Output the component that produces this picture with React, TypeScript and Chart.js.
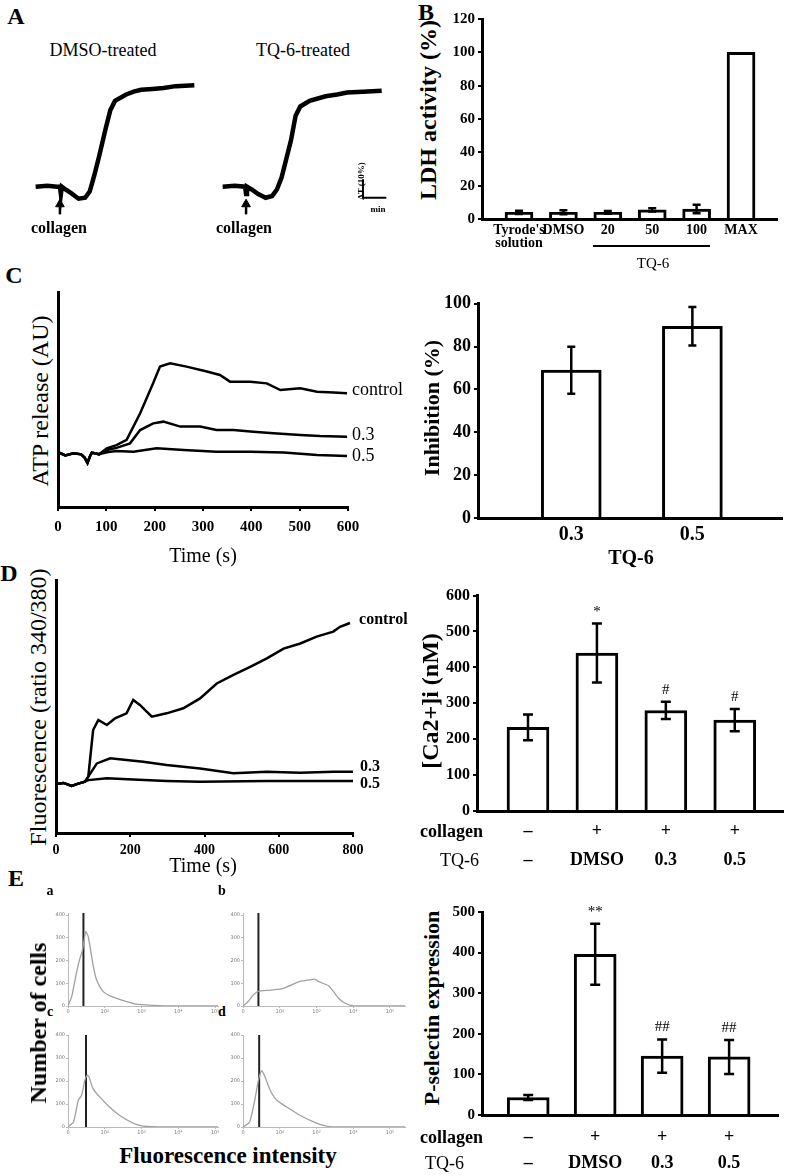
import React, { useEffect, useRef } from 'react';
import { Chart, registerables } from 'chart.js';

Chart.register(...registerables);
const SERIF = "'Liberation Serif', 'Times New Roman', serif";
Chart.defaults.font.family = SERIF;
Chart.defaults.color = '#000';

// ---------------- Data ----------------
// Panel A: platelet aggregation traces (time in min, light transmission change in %)
const aDmsoTime = [0, 0.5, 0.92, 1.04, 1.08, 1.12, 1.28, 1.52, 1.84, 2.12, 2.32, 2.52, 2.72, 3.0, 3.2, 3.4, 3.88, 4.2, 4.52, 5.0, 5.48, 6.0, 6.8];
const aDmsoValue = [0, 0.5, 0, 0, -4, 0, -1.5, -3.5, -6.5, -6, -2.5, 6.5, 16.5, 31.5, 41.5, 46.5, 50, 51.5, 52.5, 53, 53.5, 54.5, 55];
const aTqTime = [0, 0.5, 0.96, 1.0, 1.04, 1.24, 1.52, 1.84, 2.12, 2.32, 2.52, 2.72, 2.92, 3.12, 3.32, 3.72, 4.4, 4.9, 5.32, 6.0, 6.8];
const aTqValue = [0, 0.5, 0, -4, 0, -1.5, -4, -6, -5, -1.5, 5, 15, 25, 38.5, 43.5, 46.5, 49, 50, 51, 51.5, 52];
const aCollagenTime = [1.04, 1.0];
const scaleBarTime = [6, 6, 7];
const scaleBarValue = [4, -6, -6];

// Panel B: LDH activity
const ldhLabels = [["Tyrode's", 'solution'], 'DMSO', '20', '50', '100', 'MAX'];
const ldhValues = [4, 4, 4, 5.5, 6, 100];
const ldhErrors = [1, 1.2, 0.8, 1, 2.5, 0];

// Panel C: ATP release traces (time s, arbitrary units)
const atpCtrlTime = [0, 15, 32, 48, 55, 61, 66, 70, 85, 101, 121, 142, 170, 197, 211, 232, 266, 308, 335, 356, 398, 432, 460, 501, 536, 570, 598];
const atpCtrlValue = [25.5, 24, 25, 24.5, 23, 20.5, 23.5, 25.3, 24.5, 27.3, 28.8, 31.2, 43.6, 57.7, 65.3, 66.8, 65.3, 63, 61.4, 58.3, 58.3, 57.5, 54.4, 55.2, 53.6, 53.2, 52.9];
const atp03Time = [0, 15, 32, 48, 55, 61, 66, 70, 85, 101, 121, 149, 170, 197, 218, 253, 294, 328, 363, 404, 446, 501, 542, 598];
const atp03Value = [25.5, 24, 25, 24.5, 23, 20.5, 23.5, 25.3, 24.5, 26.5, 27.5, 29.6, 35.8, 38.9, 39.7, 37.4, 37.4, 35.8, 35.8, 35, 34.3, 33.5, 33, 32.7];
const atp05Time = [0, 15, 32, 48, 55, 61, 66, 70, 85, 101, 121, 156, 204, 260, 328, 398, 467, 536, 598];
const atp05Value = [25.5, 24, 25, 24.5, 23, 20.5, 23.5, 25.3, 24.5, 25.5, 26, 25.7, 27.3, 26.5, 25.7, 25.7, 25.3, 24.2, 23.7];

// Panel C: inhibition
const inhLabels = ['0.3', '0.5'];
const inhValues = [69, 89.5];
const inhErrors = [11, 9];

// Panel D: fluorescence traces
const fluCtrlTime = [0, 20, 42, 60, 78, 87, 100, 114, 137, 159, 190, 208, 226, 258, 298, 343, 388, 433, 478, 523, 568, 613, 658, 702, 747, 765, 792];
const fluCtrlValue = [19.4, 19.8, 18.6, 19.5, 20.3, 22.3, 40.7, 44.7, 42.7, 45.3, 47.3, 52.6, 50.6, 46, 47.3, 49.3, 53.2, 59.1, 62.5, 65.7, 69, 72.9, 74.9, 77.6, 79.6, 81.5, 83];
const flu03Time = [0, 20, 42, 60, 78, 87, 110, 146, 190, 235, 298, 388, 478, 568, 658, 747, 800];
const flu03Value = [19.4, 19.8, 18.6, 19.5, 20.3, 22.3, 27.5, 29.5, 28.9, 28.2, 26.9, 25.5, 23.6, 24.2, 23.8, 24.2, 24.2];
const flu05Time = [0, 20, 42, 60, 78, 87, 137, 208, 298, 388, 568, 800];
const flu05Value = [19.4, 19.8, 18.6, 19.5, 20.3, 20.9, 21.6, 21.1, 20.6, 20.3, 20.6, 20.6];

// Panel D: [Ca2+]i
const collagenRow = ['–', '+', '+', '+'];
const tq6Row = ['–', 'DMSO', '0.3', '0.5'];
const caValues = [233, 440, 280, 253];
const caErrors = [36, 82, 24, 31];
const caMarks = ['', '*', '#', '#'];

// Panel E: flow cytometry histograms (x in decades, y = number of cells)
const facsTickLabels = ['0', '10²', '10³', '10⁴', '10⁵'];
const facsCountTicks = [0, 100, 200, 300, 400];
const histAx = [0, 0.1, 0.21, 0.3, 0.4, 0.48, 0.55, 0.69, 0.78, 0.96, 1.19, 1.46, 1.82, 2.1, 2.7, 4.08];
const histAy = [0, 41, 129, 195, 250, 327, 305, 173, 114, 63, 41, 26, 9, 5, 0, 0];
const histBx = [0, 0.14, 0.28, 0.42, 0.74, 1.1, 1.55, 1.83, 1.96, 2.05, 2.33, 2.46, 2.6, 2.78, 3.0, 4.41];
const histBy = [0, 20, 49, 64, 70, 78, 108, 115, 118, 108, 89, 64, 34, 12, 1, 0];
const histCx = [0, 0.15, 0.28, 0.37, 0.46, 0.52, 0.57, 0.68, 0.86, 1.13, 1.4, 1.77, 2.05, 2.68, 4.08];
const histCy = [0, 22, 116, 138, 204, 225, 218, 167, 131, 87, 51, 17, 4, 0, 0];
const histDx = [0, 0.18, 0.32, 0.42, 0.51, 0.6, 0.74, 0.92, 1.19, 1.55, 1.92, 2.19, 2.46, 4.41];
const histDy = [0, 22, 116, 204, 245, 218, 160, 116, 87, 51, 22, 7, 0, 0];
const histMarkers = [0.42, 0.42, 0.49, 0.44];

// Panel E: P-selectin
const pselValues = [43, 396, 145, 143];
const pselErrors = [6, 75, 41, 42];
const pselMarks = ['', '**', '##', '##'];

// ---------------- Helpers ----------------
const pts = (xs: number[], ys: number[]) => xs.map((x, i) => ({ x, y: ys[i] }));
const fixW = (w: number) => (s: any) => { s.width = w; };
const fixH = (h: number) => (s: any) => { s.height = h; };
const basePlugins = { legend: { display: false }, tooltip: { enabled: false } };

const errorBarsPlugin = {
  id: 'errorBars',
  afterDatasetsDraw(chart: any) {
    const { ctx } = chart;
    const yScale = chart.scales.y;
    chart.data.datasets.forEach((ds: any, di: number) => {
      if (!ds.errors) return;
      const meta = chart.getDatasetMeta(di);
      ctx.save();
      ctx.strokeStyle = '#000';
      ctx.lineWidth = ds.errorLineWidth || 2.5;
      meta.data.forEach((bar: any, i: number) => {
        const v = ds.data[i].y;
        const e = ds.errors[i] || 0;
        const top = yScale.getPixelForValue(v + e);
        const bot = yScale.getPixelForValue(v - e);
        const cap = ds.capHalf || 4;
        if (e > 0) {
          ctx.beginPath();
          ctx.moveTo(bar.x, top); ctx.lineTo(bar.x, bot);
          ctx.moveTo(bar.x - cap, top); ctx.lineTo(bar.x + cap, top);
          ctx.moveTo(bar.x - cap, bot); ctx.lineTo(bar.x + cap, bot);
          ctx.stroke();
        }
        const m = ds.marks ? ds.marks[i] : '';
        if (m) {
          ctx.fillStyle = '#000';
          ctx.font = `15px ${SERIF}`;
          ctx.textAlign = 'center';
          ctx.textBaseline = 'middle';
          ctx.fillText(m, bar.x, top - 12);
        }
      });
      ctx.restore();
    });
  },
};

const endLabelsPlugin = {
  id: 'endLabels',
  afterDatasetsDraw(chart: any) {
    const { ctx } = chart;
    chart.data.datasets.forEach((ds: any, di: number) => {
      if (!ds.endLabel) return;
      const meta = chart.getDatasetMeta(di);
      const last = meta.data[meta.data.length - 1];
      ctx.save();
      ctx.fillStyle = '#000';
      ctx.font = ds.endFont;
      ctx.textAlign = 'left';
      ctx.textBaseline = 'middle';
      ctx.fillText(ds.endLabel, last.x + (ds.endDx || 4), last.y + (ds.endDy || 0));
      ctx.restore();
    });
  },
};

function aggConfig(time: number[], value: number[], arrowAt: number, xMax: number, withBar: boolean) {
  const datasets: any[] = [
    { data: pts(time, value), borderColor: '#000', borderWidth: 4.5, pointRadius: 0, tension: 0 },
    {
      data: [{ x: arrowAt, y: -15 }, { x: arrowAt, y: -9.5 }],
      borderColor: '#000', borderWidth: 2.5, pointRadius: [0, 5], pointStyle: 'triangle',
      pointBackgroundColor: '#000', pointBorderColor: '#000', pointBorderWidth: 1,
    },
  ];
  if (withBar) datasets.push({ data: pts(scaleBarTime, scaleBarValue), borderColor: '#000', borderWidth: 2, pointRadius: 0 });
  return {
    type: 'line',
    data: { datasets },
    options: {
      animation: false, responsive: false, events: [],
      plugins: basePlugins,
      scales: {
        x: { type: 'linear', display: false, min: -0.2, max: xMax },
        y: { type: 'linear', display: false, min: -17.5, max: 60 },
      },
    },
  };
}

function barConfig(o: any) {
  return {
    type: 'bar',
    data: {
      datasets: [{
        data: o.values.map((v: number, i: number) => ({ x: i, y: v })),
        errors: o.errors, marks: o.marks, capHalf: o.capHalf,
        backgroundColor: '#fff', borderColor: '#000', borderWidth: 3, borderSkipped: 'start',
        barThickness: o.barThickness,
      }],
    },
    options: {
      animation: false, responsive: false, events: [],
      layout: { padding: o.padding },
      plugins: basePlugins,
      scales: {
        x: {
          type: 'linear', offset: false, min: o.xMin, max: o.xMax,
          grid: { display: false, drawTicks: false },
          border: { display: true, color: '#000', width: 3, z: 1 },
          afterBuildTicks: (s: any) => { s.ticks = o.labels.map((_: any, i: number) => ({ value: i })); },
          ticks: {
            autoSkip: false, maxRotation: 0, padding: o.xPad,
            font: { size: o.xSize, weight: 'bold', lineHeight: o.xLineHeight },
            callback: (v: number) => o.labels[v],
          },
          afterFit: fixH(o.xHeight),
        },
        y: {
          type: 'linear', min: 0, max: o.yMax,
          ticks: { stepSize: o.yStep, padding: 3, font: { size: o.ySize, weight: 'bold' } },
          grid: { display: true, drawOnChartArea: false, drawTicks: true, tickLength: 4, color: '#000', lineWidth: 2 },
          border: { display: true, color: '#000', width: 3 },
          afterFit: fixW(o.yWidth),
        },
      },
    },
    plugins: [errorBarsPlugin],
  };
}

function traceConfig(o: any) {
  return {
    type: 'line',
    data: {
      datasets: o.series.map((s: any) => ({
        data: pts(s.time, s.value), borderColor: '#000', borderWidth: 2.5, pointRadius: 0, tension: 0,
        endLabel: s.label, endDy: s.dy, endDx: s.dx, endFont: o.labelFont,
      })),
    },
    options: {
      animation: false, responsive: false, events: [],
      layout: { padding: o.padding },
      plugins: basePlugins,
      scales: {
        x: {
          type: 'linear', min: 0, max: o.xMax,
          ticks: { stepSize: o.xStep, padding: o.xPad, font: { size: o.tickSize, weight: 'bold' } },
          grid: { display: true, drawOnChartArea: false, drawTicks: true, tickLength: 4, color: '#000', lineWidth: 2 },
          border: { display: true, color: '#000', width: 3 },
          afterFit: fixH(o.xHeight),
        },
        y: {
          type: 'linear', min: 0, max: 100,
          ticks: { display: false },
          grid: { display: false, drawTicks: false },
          border: { display: true, color: '#000', width: 3 },
          afterFit: fixW(o.yWidth),
        },
      },
    },
    plugins: [endLabelsPlugin],
  };
}

function histConfig(xs: number[], ys: number[], marker: number, xMax: number, yMax: number) {
  const tickFont = { size: 5, family: "'DejaVu Sans', sans-serif" };
  return {
    type: 'line',
    data: {
      datasets: [
        { data: pts(xs, ys), borderColor: '#a0a0a0', borderWidth: 1.3, pointRadius: 0, tension: 0.2 },
        { data: [{ x: marker, y: 0 }, { x: marker, y: yMax }], borderColor: '#222', borderWidth: 2, pointRadius: 0 },
      ],
    },
    options: {
      animation: false, responsive: false, events: [],
      layout: { padding: { top: 7, right: 3, left: 0, bottom: 0 } },
      plugins: basePlugins,
      scales: {
        x: {
          type: 'linear', min: 0, max: xMax,
          afterBuildTicks: (s: any) => { s.ticks = facsTickLabels.map((_, i) => ({ value: i })); },
          ticks: { autoSkip: false, maxRotation: 0, padding: 1, color: '#777', font: tickFont, callback: (v: number) => facsTickLabels[v] },
          grid: { display: true, drawOnChartArea: false, drawTicks: true, tickLength: 2, color: '#bbb', lineWidth: 1 },
          border: { display: true, color: '#bbb', width: 1, dash: [2, 2] },
          afterFit: fixH(10),
        },
        y: {
          type: 'linear', min: 0, max: yMax,
          afterBuildTicks: (s: any) => { s.ticks = facsCountTicks.map((v) => ({ value: v })); },
          ticks: { padding: 1, color: '#777', font: tickFont },
          grid: { display: true, drawOnChartArea: false, drawTicks: true, tickLength: 2, color: '#bbb', lineWidth: 1 },
          border: { display: true, color: '#bbb', width: 1, dash: [2, 2] },
          afterFit: fixW(16),
        },
      },
    },
  };
}

// ---------------- Components ----------------
function ChartCanvas({ left, top, width, height, make }: any) {
  const ref = useRef<HTMLCanvasElement>(null);
  useEffect(() => {
    const chart = new Chart(ref.current as any, make());
    return () => chart.destroy();
  }, []);
  return (
    <canvas ref={ref} width={width} height={height}
      style={{ position: 'absolute', left, top, width, height }} />
  );
}

function Txt({ x, y, text, size, bold = false, rotate = false, align = 'center' }: any) {
  const tx = align === 'center' ? '-50%' : '0';
  return (
    <div style={{
      position: 'absolute', left: x, top: y,
      transform: `translate(${tx},-50%)${rotate ? ' rotate(-90deg)' : ''}`,
      fontFamily: SERIF, fontSize: size, fontWeight: bold ? 700 : 400,
      lineHeight: 1, whiteSpace: 'nowrap', color: '#000',
    }}>{text}</div>
  );
}

const rowLabels = (i: number) => [collagenRow[i], tq6Row[i]];

export default function App() {
  return (
    <div style={{ position: 'absolute', left: 0, top: 0, width: 787, height: 1176, background: '#fff', overflow: 'hidden' }}>
      {/* Panel letters */}
      <Txt x={16} y={16} text="A" size={24} bold />
      <Txt x={426} y={12} text="B" size={24} bold />
      <Txt x={14} y={275} text="C" size={24} bold />
      <Txt x={9} y={573} text="D" size={24} bold />
      <Txt x={16} y={878} text="E" size={24} bold />

      {/* Panel A */}
      <Txt x={103} y={50} text="DMSO-treated" size={18} />
      <Txt x={303} y={50} text="TQ-6-treated" size={18} />
      <ChartCanvas left={25} top={70} width={180} height={155}
        make={() => aggConfig(aDmsoTime, aDmsoValue, aCollagenTime[0], 7.0, false)} />
      <ChartCanvas left={212} top={70} width={185} height={155}
        make={() => aggConfig(aTqTime, aTqValue, aCollagenTime[1], 7.2, true)} />
      <Txt x={59} y={228} text="collagen" size={16} bold />
      <Txt x={244} y={228} text="collagen" size={16} bold />
      <Txt x={361} y={181} text="ΔT (10%)" size={9} bold rotate />
      <Txt x={378} y={209} text="min" size={9} bold />

      {/* Panel B */}
      <Txt x={428} y={110} text="LDH activity (%)" size={24} bold rotate />
      <ChartCanvas left={438} top={7} width={349} height={243}
        make={() => barConfig({
          values: ldhValues, errors: ldhErrors, labels: ldhLabels, capHalf: 4,
          xMin: -0.833, xMax: 5.81, yMax: 120, yStep: 20, barThickness: 28,
          padding: { top: 10, right: 10, left: 0, bottom: 0 }, yWidth: 44, xHeight: 31,
          xPad: 4.5, xSize: 14, xLineHeight: 13 / 14, ySize: 15,
        })} />
      <div style={{ position: 'absolute', left: 593, top: 245, width: 117, height: 2, background: '#000' }} />
      <Txt x={653} y={263} text="TQ-6" size={15} />

      {/* Panel C */}
      <Txt x={40} y={401} text="ATP release (AU)" size={24} rotate />
      <ChartCanvas left={18} top={284} width={402} height={263}
        make={() => traceConfig({
          series: [
            { time: atpCtrlTime, value: atpCtrlValue, label: 'control', dy: -3, dx: 5 },
            { time: atp03Time, value: atp03Value, label: '0.3', dy: -1, dx: 5 },
            { time: atp05Time, value: atp05Value, label: '0.5', dy: 0, dx: 5 },
          ],
          xMax: 600, xStep: 100, xPad: 7, tickSize: 15, xHeight: 40, yWidth: 40,
          padding: { top: 8, right: 72, left: 0, bottom: 0 }, labelFont: `18px ${SERIF}`,
        })} />
      <Txt x={203} y={555} text="Time (s)" size={20} />
      <Txt x={432} y={408} text="Inhibition (%)" size={22} bold rotate />
      <ChartCanvas left={440} top={290} width={347} height={258}
        make={() => barConfig({
          values: inhValues, errors: inhErrors, labels: inhLabels, capHalf: 4,
          xMin: -0.77, xMax: 1.74, yMax: 100, yStep: 20, barThickness: 60,
          padding: { top: 10, right: 5, left: 0, bottom: 0 }, yWidth: 38, xHeight: 30,
          xPad: 5, xSize: 20, xLineHeight: 1.2, ySize: 18,
        })} />
      <Txt x={631} y={557} text="TQ-6" size={20} bold />

      {/* Panel D */}
      <Txt x={38} y={707} text="Fluorescence (ratio 340/380)" size={24} rotate />
      <ChartCanvas left={16} top={572} width={404} height={291}
        make={() => traceConfig({
          series: [
            { time: fluCtrlTime, value: fluCtrlValue, label: 'control', dy: -3, dx: 9 },
            { time: flu03Time, value: flu03Value, label: '0.3', dy: -5, dx: 7 },
            { time: flu05Time, value: flu05Value, label: '0.5', dy: 3, dx: 7 },
          ],
          xMax: 800, xStep: 200, xPad: 4.5, tickSize: 14, xHeight: 30, yWidth: 40,
          padding: { top: 8, right: 67, left: 0, bottom: 0 }, labelFont: `bold 16px ${SERIF}`,
        })} />
      <Txt x={203} y={865} text="Time (s)" size={20} />
      <Txt x={430} y={701} text="[Ca2+]i (nM)" size={24} bold rotate />
      <ChartCanvas left={437} top={583} width={350} height={288}
        make={() => barConfig({
          values: caValues, errors: caErrors, marks: caMarks, labels: collagenRow.map((_, i) => rowLabels(i)), capHalf: 5,
          xMin: -0.74, xMax: 3.7, yMax: 600, yStep: 100, barThickness: 42,
          padding: { top: 10, right: 4, left: 0, bottom: 0 }, yWidth: 40, xHeight: 60,
          xPad: 5.5, xSize: 18, xLineHeight: 29 / 18, ySize: 16,
        })} />
      <Txt x={420} y={831} text="collagen" size={18} bold align="left" />
      <Txt x={440} y={860} text="TQ-6" size={18} align="left" />

      {/* Panel E */}
      <Txt x={50} y={891} text="a" size={14} bold />
      <Txt x={222} y={891} text="b" size={14} bold />
      <Txt x={50} y={1012} text="c" size={14} bold />
      <Txt x={222} y={1012} text="d" size={14} bold />
      <ChartCanvas left={52} top={906} width={169} height={110}
        make={() => histConfig(histAx, histAy, histMarkers[0], 4.08, 409)} />
      <ChartCanvas left={227} top={906} width={181} height={110}
        make={() => histConfig(histBx, histBy, histMarkers[1], 4.41, 409)} />
      <ChartCanvas left={52} top={1028} width={169} height={109}
        make={() => histConfig(histCx, histCy, histMarkers[2], 4.08, 400)} />
      <ChartCanvas left={227} top={1028} width={181} height={109}
        make={() => histConfig(histDx, histDy, histMarkers[3], 4.41, 400)} />
      <Txt x={38} y={1023} text="Number of cells" size={24} bold rotate />
      <Txt x={228} y={1155} text="Fluorescence intensity" size={23} bold />

      <Txt x={432} y={1008} text="P-selectin expression" size={22} bold rotate />
      <ChartCanvas left={440} top={900} width={347} height={275}
        make={() => barConfig({
          values: pselValues, errors: pselErrors, marks: pselMarks, labels: collagenRow.map((_, i) => rowLabels(i)), capHalf: 5,
          xMin: -0.69, xMax: 3.73, yMax: 500, yStep: 100, barThickness: 42,
          padding: { top: 10, right: 9, left: 0, bottom: 0 }, yWidth: 42, xHeight: 60,
          xPad: 9, xSize: 18, xLineHeight: 26 / 18, ySize: 15,
        })} />
      <Txt x={420} y={1137} text="collagen" size={18} bold align="left" />
      <Txt x={425} y={1163} text="TQ-6" size={18} align="left" />
    </div>
  );
}
